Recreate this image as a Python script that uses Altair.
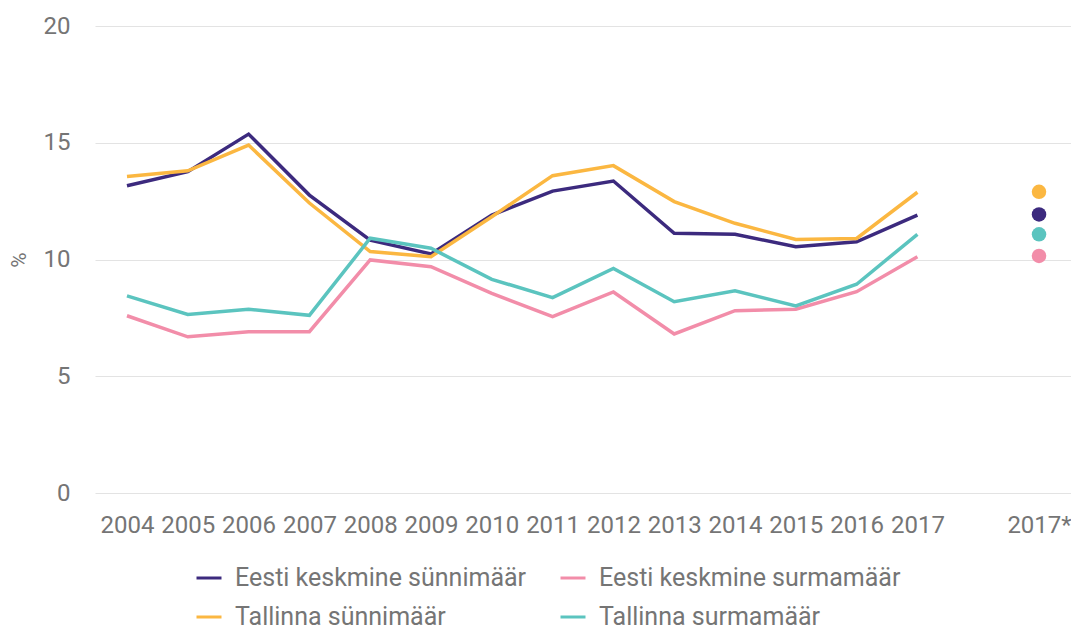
import altair as alt
import pandas as pd

years = [str(y) for y in range(2004, 2018)]
series = ["Eesti keskmine sünnimäär", "Tallinna sünnimäär",
          "Eesti keskmine surmamäär", "Tallinna surmamäär"]
colors = ["#3c2a7e", "#fbb741", "#f28da9", "#5bc4bf"]

eesti_synd = [13.16, 13.76, 15.37, 12.76, 10.83, 10.24, 11.9, 12.93, 13.36, 11.12, 11.08, 10.55, 10.76, 11.9]
tln_synd = [13.55, 13.8, 14.9, 12.42, 10.34, 10.12, 11.83, 13.59, 14.02, 12.48, 11.55, 10.86, 10.9, 12.88]
eesti_surm = [7.59, 6.69, 6.91, 6.91, 9.98, 9.69, 8.55, 7.55, 8.61, 6.81, 7.81, 7.87, 8.62, 10.12]
tln_surm = [8.44, 7.65, 7.87, 7.61, 10.91, 10.48, 9.15, 8.37, 9.62, 8.19, 8.66, 8.01, 8.94, 11.08]

extra_label = "2017*"
extra_values = [11.93, 12.9, 10.15, 11.08]

x_domain = years + [" ", extra_label]

rows = []
for name, vals in zip(series, [eesti_synd, tln_synd, eesti_surm, tln_surm]):
    for y, v in zip(years, vals):
        rows.append({"aasta": y, "näitaja": name, "väärtus": v})
lines_df = pd.DataFrame(rows)
points_df = pd.DataFrame({"aasta": [extra_label] * 4, "näitaja": series, "väärtus": extra_values})

FONT = "Roboto"
GREY = "#757575"

x_enc = alt.X("aasta:O", scale=alt.Scale(type="point", domain=x_domain, padding=0.526),
              axis=alt.Axis(title=None, labelAngle=0, labelFontSize=24, labelColor=GREY,
                            labelFont=FONT, domain=False, ticks=False, labelPadding=20,
                            grid=False))
y_enc = alt.Y("väärtus:Q", scale=alt.Scale(domain=[0, 20]),
              axis=alt.Axis(title="%", values=[0, 5, 10, 15, 20], labelFontSize=24,
                            labelColor=GREY, labelFont=FONT, domain=False, ticks=False,
                            labelPadding=25, titleFontSize=21, titleColor=GREY,
                            titleFont=FONT, titleFontWeight="normal", titlePadding=14,
                            gridColor="#e3e3e3", gridWidth=1))
color_scale = alt.Scale(domain=series, range=colors)

lines = alt.Chart(lines_df).mark_line(strokeWidth=3.5).encode(
    x=x_enc, y=y_enc,
    color=alt.Color("näitaja:N", scale=color_scale,
                    legend=alt.Legend(title=None, orient="none", legendX=100, legendY=538,
                                      columns=2, symbolType="stroke", symbolSize=625,
                                      symbolStrokeWidth=3, labelFontSize=25,
                                      labelColor=GREY, labelFont=FONT, labelOffset=12,
                                      columnPadding=27, rowPadding=12, labelLimit=400)),
)

points = alt.Chart(points_df).mark_circle(size=210, opacity=1).encode(
    x=x_enc, y=y_enc,
    color=alt.Color("näitaja:N", scale=color_scale, legend=None),
)

chart = alt.layer(lines, points).properties(
    width=976, height=467,
    autosize=alt.AutoSizeParams(type="none"),
    padding={"left": 87, "top": 18, "right": 0, "bottom": 138},
).configure(font=FONT).configure_view(strokeWidth=0, stroke="transparent")

chart.save("out.html", embed_options={"renderer": "svg", "actions": False})
